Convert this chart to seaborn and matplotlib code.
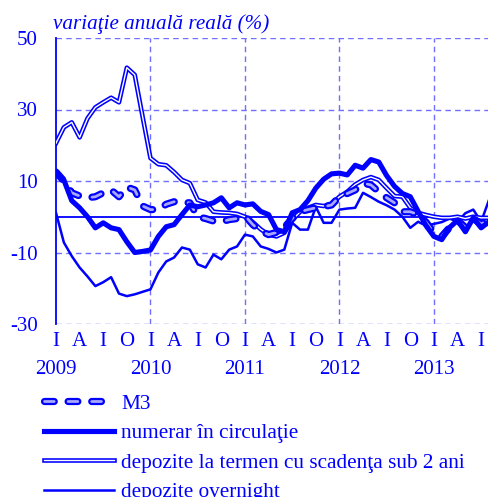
import matplotlib
matplotlib.use("Agg")
import matplotlib.pyplot as plt
import matplotlib.patheffects as pe
import numpy as np
import pandas as pd
import seaborn as sns

# monthly data, Jan 2009 - Aug 2013 (real annual change, %)
m3 = [12.5, 10, 6.7, 5.8, 5.3, 5.6, 6.7, 7.5, 5.6, 8.3, 7.5, 3,
      2, 2, 3.5, 4.2, 4.0, 3.9, 0, -0.5, -1.2, -1.4, -0.8, -0.5,
      0.3, -2.2, -4, -5, -4.4, -3, -0.5, 1.4, 2, 2.5, 2.8, 3.3,
      5.6, 6.5, 7.5, 9.4, 8.9, 7, 5.3, 3.9, 1.4, 1.4, 0.6, -1.5,
      -4.5, -5.5, -3, -1, -3, -0.5, -2, -1]
numerar = [12.5, 10.3, 4.5, 2.5, 0, -3.1, -1.7, -3.1, -3.6, -7, -10, -9.7,
           -9.3, -5.5, -2.8, -2.2, 0.6, 3.3, 2.8, 3.3, 3.9, 5.3, 2.5, 3.9,
           3.3, 3.6, 1.5, 0.6, -3.6, -4.2, 1.1, 2, 4.5, 8, 10.5, 12,
           12.2, 11.7, 14.4, 13.6, 16, 15.3, 11.5, 8.5, 6.5, 5.6, 1.5, -2.5,
           -5.5, -6.4, -3, -1, -4.2, -0.3, -3.1, -1.4]
depozite_termen = [20.6, 25, 26.4, 22.2, 27.5, 30.6, 32, 33.3, 32, 41.7, 39.7, 28,
                   16.4, 14.7, 14.4, 12.5, 10.3, 9.4, 4.7, 4.0, 1.4, 1.2, 1.1, 0.8,
                   0, -1.5, -3.5, -5, -5.5, -4.5, -1, 1.4, 2.5, 3.3, 3, 3.5,
                   5.6, 7, 9, 10.3, 11.1, 10.3, 8, 5.8, 5.6, 2.5, 1.1, 0.5,
                   0, -0.3, -0.3, 0, -0.5, 0, -0.3, -0.3]
depozite_overnight = [1.1, -7.2, -11, -14.2, -16.7, -19.4, -18.3, -16.9, -21.5, -22.2, -21.7, -21,
                      -20.3, -15.6, -12.5, -11.4, -8.6, -9.2, -13.3, -14.2, -10.6, -11.9, -9.2, -8.3,
                      -5, -5.5, -8.3, -9, -10, -9.2, -1.7, -3.6, -3.6, 2.8, -1.7, -1.7,
                      2, 2.3, 2.5, 6.7, 5.5, 4.2, 3.2, 2, 0, -3.1, -1.4, -2.5,
                      -2, -1.5, -0.5, -1.4, 1, 2, -1.4, 4.7]

years = ["2009", "2010", "2011", "2012", "2013"]
quarter_labels = ["I", "A", "I", "O"]
y_ticks = [50, 30, 10, -10, -30]

labels = ["M3", "numerar în circulaţie",
          "depozite la termen cu scadenţa sub 2 ani", "depozite overnight"]

df = pd.DataFrame({"month": np.arange(len(m3)),
                   labels[0]: m3, labels[1]: numerar,
                   labels[2]: depozite_termen, labels[3]: depozite_overnight})

BLUE = "#0000ff"
plt.rcParams["font.family"] = ["Liberation Serif", "DejaVu Serif"]
plt.rcParams["lines.scale_dashes"] = False

fig = plt.figure(figsize=(4.89, 4.97), dpi=100)
ax = fig.add_axes([56 / 489, 1 - 324 / 497, 1 - 56 / 489, (324 - 38) / 497])

# grid
for y in y_ticks:
    ax.axhline(y, color="#7070ff", lw=1, dashes=(4, 3), zorder=1)
for k in range(1, len(years)):
    ax.axvline(12 * k, color="#7070ff", lw=1, dashes=(4, 3), zorder=1)
ax.axhline(0, color=BLUE, lw=1.3, zorder=2)

# depozite overnight
sns.lineplot(data=df, x="month", y=labels[3], ax=ax, color=BLUE, lw=1.8, zorder=3)
h_over = ax.lines[-1]

# depozite la termen (double line)
sns.lineplot(data=df, x="month", y=labels[2], ax=ax, color="white", lw=1.0, zorder=4)
h_term = ax.lines[-1]
h_term.set_path_effects([pe.Stroke(linewidth=3.3, foreground=BLUE), pe.Normal()])

# M3 (dashed, hollow)
sns.lineplot(data=df, x="month", y=labels[0], ax=ax, color="#a8a8ff", lw=2.0, zorder=5)
h_m3 = ax.lines[-1]
h_m3.set_dashes((7, 10))
h_m3.set_dash_capstyle("round")
h_m3.set_path_effects([pe.Stroke(linewidth=5.2, foreground=BLUE), pe.Normal()])

# numerar in circulatie
sns.lineplot(data=df, x="month", y=labels[1], ax=ax, color=BLUE, lw=3.7, zorder=6)
h_num = ax.lines[-1]
h_num.set_solid_joinstyle("round")

ax.set_xlim(0, len(m3) - 1)
ax.set_ylim(-30, 50)
ax.set_xlabel("")
ax.set_ylabel("")

xt = list(range(0, len(m3), 3))
xl = []
for t in xt:
    q = quarter_labels[(t // 3) % 4]
    if t % 12 == 0:
        q = q + "\n" + years[t // 12]
    xl.append(q)
ax.set_xticks(xt)
ax.set_xticklabels(xl, fontsize=15, color=BLUE, linespacing=1.65)
ax.set_yticks(y_ticks)
ax.set_yticklabels([str(v) for v in y_ticks], fontsize=15, color=BLUE)
ax.tick_params(axis="both", length=0)
ax.tick_params(axis="x", pad=6)
ax.tick_params(axis="y", pad=13)

for s in ["top", "right", "bottom"]:
    ax.spines[s].set_visible(False)
ax.spines["left"].set_color(BLUE)
ax.spines["left"].set_linewidth(1.3)

fig.text(53 / 489, 1 - 29 / 497, "variaţie anuală reală (%)", fontsize=15.2,
         style="italic", color=BLUE, va="baseline", ha="left")

fig.legend([h_m3, h_num, h_term, h_over], labels, loc="upper left",
           bbox_to_anchor=(44 / 489, 1 - 394 / 497), frameon=False,
           fontsize=15.3, labelcolor=BLUE, handlelength=3.3, handletextpad=0.33,
           labelspacing=0.45, borderpad=0, borderaxespad=0)

fig.savefig("out.png", dpi=100)
